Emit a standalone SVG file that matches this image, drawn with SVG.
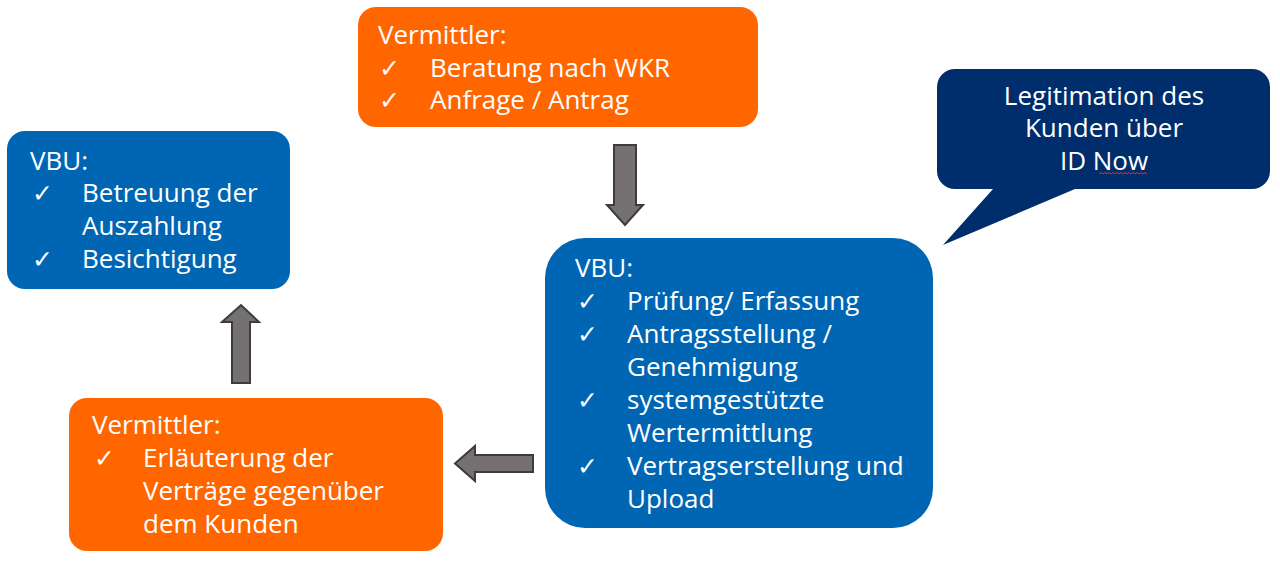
<svg xmlns="http://www.w3.org/2000/svg" width="1280" height="572" viewBox="0 0 1280 572">
<style>
.t{font-family:"Open Sans","Noto Sans","Liberation Sans",sans-serif;font-size:26px;fill:#fff}
.c{font-family:"DejaVu Sans",sans-serif;font-size:25px;fill:#fff}
.or{fill:#ff6600}
.bl{fill:#0066b3}
.nv{fill:#002d6b}
.ar{fill:#767171;stroke:#3c3c3c;stroke-width:2;stroke-linejoin:miter}
</style>
<rect width="1280" height="572" fill="#fff"/>
<g id="vermittler-top">
<rect class="or" x="358" y="7" width="400" height="120" rx="18"/>
<text class="t" x="378" y="44">Vermittler:</text>
<text class="c" x="379" y="77">✓</text><text class="t" x="430" y="77">Beratung nach WKR</text>
<text class="c" x="379" y="109">✓</text><text class="t" x="430" y="109">Anfrage / Antrag</text>
</g>
<g id="callout">
<path class="nv" d="M955,69 H1252 A18,18 0 0 1 1270,87 V171 A18,18 0 0 1 1252,189 H1075 L943,245 L993,189 H955 A18,18 0 0 1 937,171 V87 A18,18 0 0 1 955,69 Z"/>
<text class="t" text-anchor="middle" x="1104" y="105">Legitimation des</text>
<text class="t" text-anchor="middle" x="1104" y="137">Kunden über</text>
<text class="t" text-anchor="middle" x="1104" y="170">ID Now</text>
<path d="M1099,174 l2,-1.5 l2,1.5 l2,-1.5 l2,1.5 l2,-1.5 l2,1.5 l2,-1.5 l2,1.5 l2,-1.5 l2,1.5 l2,-1.5 l2,1.5 l2,-1.5 l2,1.5 l2,-1.5 l2,1.5 l2,-1.5 l2,1.5 l2,-1.5 l2,1.5 l2,-1.5 l2,1.5 l2,-1.5 l2,1.5" fill="none" stroke="#e03030" stroke-width="1"/>
</g>
<g id="vbu-top-left">
<rect class="bl" x="7" y="131" width="283" height="158" rx="18"/>
<text class="t" x="30" y="170">VBU:</text>
<text class="c" x="32" y="202">✓</text><text class="t" x="82" y="202">Betreuung der</text>
<text class="t" x="82" y="235">Auszahlung</text>
<text class="c" x="32" y="268">✓</text><text class="t" x="82" y="268">Besichtigung</text>
</g>
<g id="vbu-center">
<rect class="bl" x="545" y="238" width="388" height="290" rx="40"/>
<text class="t" x="575" y="277">VBU:</text>
<text class="c" x="577" y="310">✓</text><text class="t" x="627" y="310">Prüfung/ Erfassung</text>
<text class="c" x="577" y="343">✓</text><text class="t" x="627" y="343">Antragsstellung /</text>
<text class="t" x="627" y="376">Genehmigung</text>
<text class="c" x="577" y="409">✓</text><text class="t" x="627" y="409">systemgestützte</text>
<text class="t" x="627" y="442">Wertermittlung</text>
<text class="c" x="577" y="475">✓</text><text class="t" x="627" y="475">Vertragserstellung und</text>
<text class="t" x="627" y="508">Upload</text>
</g>
<g id="vermittler-bottom">
<rect class="or" x="69" y="398" width="374" height="153" rx="18"/>
<text class="t" x="92" y="434">Vermittler:</text>
<text class="c" x="94" y="467">✓</text><text class="t" x="143" y="467">Erläuterung der</text>
<text class="t" x="143" y="500">Verträge gegenüber</text>
<text class="t" x="143" y="533">dem Kunden</text>
</g>
<g id="connectors">
<path class="ar" d="M614,145 H636 V205 H643 L625,225 L607,205 H614 Z"/>
<path class="ar" d="M533,455 V472 H475 V481 L455,463.5 L475,446 V455 Z"/>
<path class="ar" d="M232,383 V322 H222 L241,305 L259,322 H250 V383 Z"/>
</g>
</svg>
